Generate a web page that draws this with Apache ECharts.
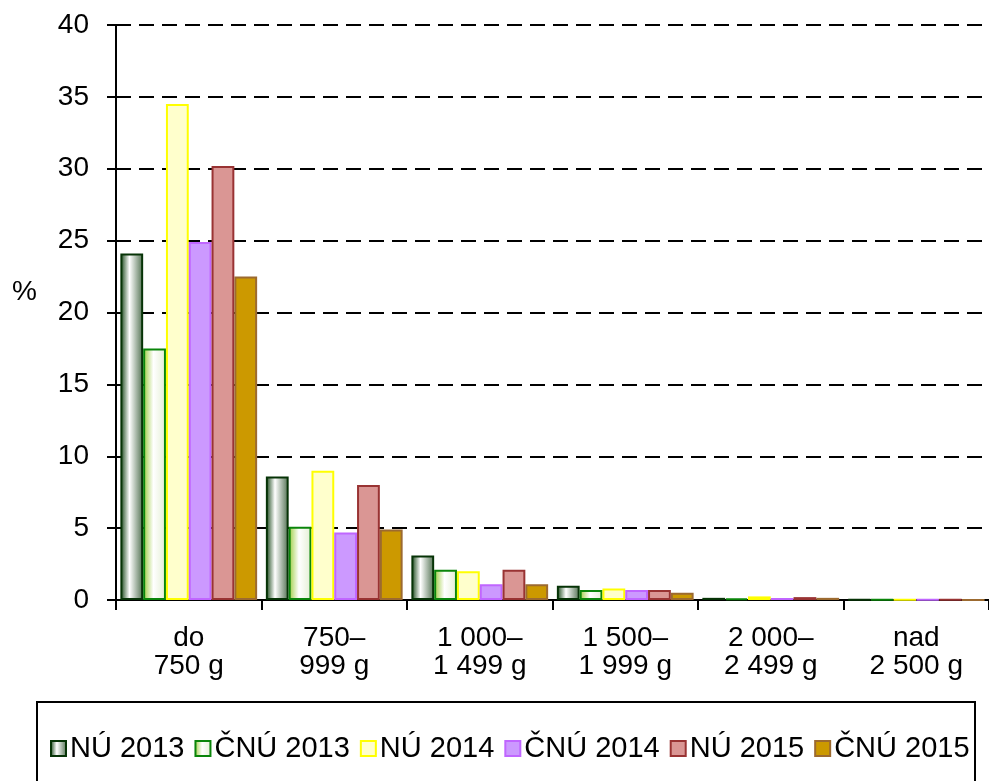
<!DOCTYPE html>
<html>
<head>
<meta charset="utf-8">
<script src="https://cdn.jsdelivr.net/npm/echarts@6/dist/echarts.min.js"></script>
<style>
    html, body { margin: 0; padding: 0; background: #fff; }
    #chart { width: 989px; height: 781px; }
</style>
</head>
<body>
<div id="chart"></div>
<script>
let categories = ['do\n750 g', '750–\n999 g', '1 000–\n1 499 g', '1 500–\n1 999 g', '2 000–\n2 499 g', 'nad\n2 500 g']
let series_names = ['NÚ 2013', 'ČNÚ 2013', 'NÚ 2014', 'ČNÚ 2014', 'NÚ 2015', 'ČNÚ 2015']
let nu_2013 = [24.1, 8.6, 3.1, 1.0, 0.15, 0.04]
let cnu_2013 = [17.5, 5.1, 2.1, 0.7, 0.12, 0.03]
let nu_2014 = [34.5, 9.0, 2.0, 0.8, 0.25, 0.02]
let cnu_2014 = [24.9, 4.7, 1.1, 0.7, 0.14, 0.02]
let nu_2015 = [30.2, 8.0, 2.1, 0.7, 0.2, 0.02]
let cnu_2015 = [22.5, 4.9, 1.1, 0.5, 0.15, 0.01]
let y_ticks = [0, 5, 10, 15, 20, 25, 30, 35, 40]

let chart = echarts.init(document.getElementById('chart'))
let font = 'Liberation Sans, Arial, sans-serif'

function grad(stops) {
    return new echarts.graphic.LinearGradient(0, 0, 1, 0, stops.map(function (s) {
        return {offset: s[0], color: s[1]}
    }))
}

let styles = [
    {color: grad([[0, '#0f3f0f'], [0.4, '#ffffff'], [1, '#4f6f4f']]), borderColor: '#063306'},
    {color: grad([[0, '#9ccc3c'], [0.45, '#ffffff'], [1, '#e3eed3']]), borderColor: '#0a850a'},
    {color: '#ffffcc', borderColor: '#ffff00'},
    {color: '#cc99ff', borderColor: '#c066ff'},
    {color: '#da9694', borderColor: '#993333'},
    {color: '#cc9900', borderColor: '#9c6a30'}
]
let values = [nu_2013, cnu_2013, nu_2014, cnu_2014, nu_2015, cnu_2015]

let series = series_names.map(function (name, i) {
    return {
        name: name,
        type: 'bar',
        data: values[i],
        barGap: '0%',
        barCategoryGap: '6%',
        itemStyle: {
            color: styles[i].color,
            borderColor: styles[i].borderColor,
            borderWidth: 2
        },
        emphasis: {disabled: true}
    }
})

option = {
    animation: false,
    grid: {
        left: 116,
        right: 0,
        top: 25,
        bottom: 181
    },
    legend: {
        data: series_names,
        left: 45,
        top: 729,
        itemWidth: 15,
        itemHeight: 15,
        itemGap: 10,
        icon: 'rect',
        itemStyle: {borderWidth: 2},
        textStyle: {fontSize: 29, fontFamily: font, color: '#000', padding: [0, 0, 0, -1]}
    },
    graphic: [
        {
            type: 'rect',
            shape: {x: 37, y: 702, width: 938, height: 120},
            style: {fill: 'none', stroke: '#000', lineWidth: 2},
            z: -1
        },
        {
            type: 'text',
            left: 12,
            top: 278,
            style: {text: '%', fontSize: 28, fontFamily: font, fill: '#000'}
        }
    ],
    xAxis: {
        type: 'category',
        data: categories,
        axisLine: {lineStyle: {color: '#000', width: 2}},
        axisTick: {show: true, length: 10, lineStyle: {color: '#000', width: 2}},
        axisLabel: {
            fontSize: 28,
            fontFamily: font,
            color: '#000',
            lineHeight: 28,
            margin: 24,
            interval: 0
        }
    },
    yAxis: {
        type: 'value',
        min: 0,
        max: 40,
        interval: 5,
        axisLine: {show: true, lineStyle: {color: '#000', width: 2}},
        axisTick: {show: true, length: 9, lineStyle: {color: '#000', width: 2}},
        axisLabel: {
            fontSize: 28,
            fontFamily: font,
            color: '#000',
            margin: 27,
            formatter: function (v) {
                return y_ticks.indexOf(v) >= 0 ? String(v) : ''
            }
        },
        splitLine: {
            show: true,
            lineStyle: {color: '#000', width: 2, type: [15, 8]}
        }
    },
    series: series
}
chart.setOption(option)
</script>
</body>
</html>
